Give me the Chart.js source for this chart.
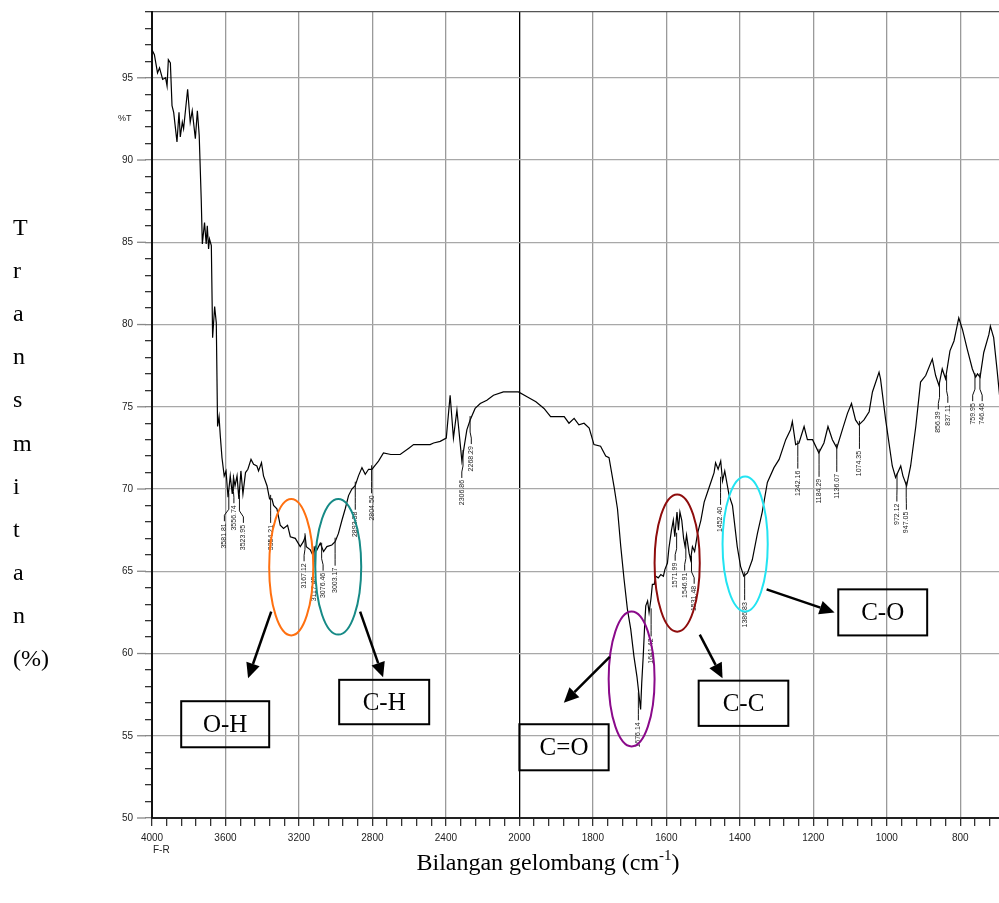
<!DOCTYPE html>
<html>
<head>
<meta charset="utf-8">
<script src="https://cdn.jsdelivr.net/npm/chart.js@4.4.1/dist/chart.umd.min.js"></script>
<style>
  html, body { margin: 0; padding: 0; background: #fff; }
</style>
</head>
<body>
<canvas id="spectrum" width="999" height="903"></canvas>
<script>
// IR spectrum: wavenumber (cm-1) and %T
const wavenumbers = [
  4000, 3987, 3970, 3959, 3942, 3926, 3918, 3911, 3900, 3891,
  3882, 3864, 3853, 3846, 3835, 3828, 3806, 3792, 3781, 3764,
  3753, 3743, 3732, 3726, 3714, 3705, 3699, 3692, 3687, 3677,
  3670, 3659, 3650, 3643, 3635, 3628, 3619, 3607, 3597, 3586,
  3574, 3563, 3556, 3548, 3537, 3527, 3516, 3505, 3491, 3478,
  3461, 3447, 3429, 3420, 3404, 3393, 3374, 3360, 3347, 3338,
  3320, 3302, 3284, 3262, 3247, 3220, 3193, 3176, 3166, 3160,
  3138, 3125, 3111, 3102, 3084, 3066, 3048, 3021, 3003, 2985,
  2966, 2948, 2930, 2912, 2894, 2876, 2857, 2839, 2821, 2803,
  2767, 2740, 2700, 2649, 2600, 2576, 2540, 2486, 2467, 2431,
  2398, 2377, 2359, 2340, 2313, 2286, 2268, 2241, 2213, 2177,
  2141, 2087, 2050, 2005, 1978, 1955, 1933, 1915, 1896, 1878,
  1865, 1851, 1838, 1824, 1810, 1797, 1779, 1765, 1756, 1742,
  1733, 1724, 1715, 1706, 1697, 1688, 1680, 1674, 1670, 1667,
  1663, 1659, 1656, 1651, 1647, 1642, 1638, 1633, 1629, 1622,
  1615, 1608, 1604, 1597, 1593, 1586, 1581, 1577, 1571, 1567,
  1563, 1558, 1553, 1549, 1545, 1538, 1534, 1529, 1523, 1515,
  1506, 1497, 1488, 1479, 1470, 1466, 1459, 1452, 1447, 1441,
  1429, 1420, 1407, 1398, 1389, 1379, 1366, 1352, 1339, 1325,
  1307, 1293, 1275, 1262, 1257, 1248, 1239, 1225, 1216, 1202,
  1185, 1171, 1160, 1148, 1136, 1121, 1107, 1096, 1085, 1076,
  1062, 1048, 1039, 1021, 1017, 1003, 985, 976, 962, 956,
  946, 935, 921, 908, 894, 876, 867, 858, 849, 840,
  828, 817, 804, 794, 781, 767, 758, 753, 746, 736,
  722, 718, 709, 700, 693
];
const transmittance = [
  96.7, 96.4, 95.3, 95.6, 94.9, 95.0, 94.5, 96.1, 95.9, 93.3,
  92.9, 91.1, 92.9, 91.4, 92.3, 91.9, 94.3, 92.3, 93.0, 91.3,
  93.0, 91.5, 87.6, 84.9, 86.2, 84.9, 86.0, 84.6, 85.2, 84.8,
  79.2, 81.1, 80.1, 73.8, 74.4, 73.2, 71.9, 70.8, 71.1, 69.5,
  70.8, 69.7, 70.7, 70.2, 70.8, 69.4, 71.1, 69.7, 71.0, 71.2,
  71.8, 71.5, 71.4, 71.1, 71.6, 70.8, 70.2, 69.4, 69.4, 69.0,
  68.8, 67.8, 67.6, 67.8, 67.1, 67.0, 66.5, 66.8, 67.1, 66.5,
  66.3, 66.0, 66.5, 66.3, 66.7, 66.2, 66.5, 66.6, 66.8, 67.3,
  68.1, 68.8, 69.6, 70.0, 70.2, 70.8, 71.3, 70.9, 71.2, 71.2,
  71.7, 72.2, 72.1, 72.1, 72.5, 72.7, 72.7, 72.7, 72.8, 72.9,
  73.1, 75.7, 73.1, 74.8, 71.7, 73.6, 74.2, 74.9, 75.2, 75.4,
  75.7, 75.9, 75.9, 75.9, 75.6, 75.3, 74.9, 74.4, 74.4, 74.4,
  74.0, 74.3, 73.9, 74.0, 73.7, 72.7, 72.6, 72.0, 71.9, 70.1,
  68.8, 66.5, 64.5, 62.7, 61.5, 59.8, 58.6, 57.4, 56.6, 58.2,
  59.8, 61.7, 62.9, 63.2, 62.5, 63.3, 64.2, 64.2, 64.7, 64.6,
  64.8, 64.7, 65.1, 65.5, 66.4, 67.5, 68.1, 67.1, 68.6, 67.5,
  68.6, 68.1, 67.0, 66.5, 67.2, 66.1, 65.7, 66.5, 66.2, 67.3,
  68.1, 69.2, 69.8, 70.4, 71.0, 71.6, 71.2, 71.7, 70.5, 71.1,
  69.6, 69.0, 66.5, 65.3, 64.7, 64.9, 65.7, 67.3, 68.6, 70.4,
  71.3, 71.8, 73.0, 73.6, 74.1, 72.7, 72.8, 73.8, 73.0, 73.0,
  72.2, 72.8, 73.8, 73.0, 72.5, 73.6, 74.6, 75.2, 74.2, 73.9,
  74.2, 74.7, 75.9, 77.1, 76.7, 74.2, 71.4, 70.7, 71.4, 70.8,
  70.2, 71.4, 73.8, 76.5, 76.9, 77.9, 76.9, 76.3, 77.3, 76.7,
  78.4, 79.0, 80.4, 79.7, 78.5, 77.3, 76.8, 77.0, 76.8, 78.3,
  79.4, 79.9, 79.2, 77.3, 75.7
];
const xTickValues = [4000, 3600, 3200, 2800, 2400, 2000, 1800, 1600, 1400, 1200, 1000, 800];
const yTickValues = [50, 55, 60, 65, 70, 75, 80, 85, 90, 95];
const peakLabels = [
  "3581.81", "3556.74", "3523.95", "3354.21", "3167.12", "3117.45", "3076.46", "3003.17",
  "2893.38", "2804.50", "2306.86", "2268.29", "1676.14", "1641.42", "1571.99", "1546.91",
  "1531.48", "1452.40", "1386.83", "1242.16", "1184.29", "1136.07", "1074.35", "972.12",
  "947.05", "856.39", "837.11", "759.95", "746.46"
];
const bandNames = ["O-H", "C-H", "C=O", "C-C", "C-O"];

// annotation layout, in wavenumber / %T units
const bandMarks = [
  {ring: [3362, 3122, 61.1, 69.4], color: "#ff7010", box: [3841, 3362, 54.3, 57.1], arrow: [3351, 62.55, 3477, 58.5]},
  {ring: [3111, 2861, 61.15, 69.4], color: "#168a86", box: [2981, 2491, 55.7, 58.4], arrow: [2867, 62.55, 2742, 58.55]},
  {ring: [1757, 1632, 54.35, 62.55], color: "#8a0a8a", box: [2000, 1757, 52.9, 55.7], arrow: [1754, 59.8, 1879, 57.0]},
  {ring: [1632, 1509, 61.33, 69.67], color: "#8e0c0c", box: [1512, 1268, 55.6, 58.35], arrow: [1509, 61.15, 1447, 58.5]},
  {ring: [1447, 1324, 62.55, 70.76], color: "#22e4f2", box: [1132, 890, 61.1, 63.9], arrow: [1327, 63.9, 1142, 62.5]}
];

// the instrument plots 4000-2000 at half the scale of 2000-400
function toAxis(w) { return w >= 2000 ? 4000 - w : 2000 + 2 * (2000 - w); }
function fromAxis(p) { return p <= 2000 ? 4000 - p : 2000 - (p - 2000) / 2; }

function curveMin(w) {
  let best = Infinity;
  for (let i = 0; i < wavenumbers.length; i++) {
    if (Math.abs(wavenumbers[i] - w) <= 6) best = Math.min(best, transmittance[i]);
  }
  for (let i = 0; i < wavenumbers.length - 1; i++) {
    const a = wavenumbers[i], b = wavenumbers[i + 1];
    if (w <= a && w >= b) {
      best = Math.min(best, transmittance[i] + (transmittance[i + 1] - transmittance[i]) * (a - w) / (a - b));
    }
  }
  return best;
}

function arrow(ctx, x1, y1, x2, y2) {
  const ang = Math.atan2(y2 - y1, x2 - x1);
  const len = 15, half = 7;
  const bx = x2 - len * Math.cos(ang), by = y2 - len * Math.sin(ang);
  ctx.beginPath();
  ctx.moveTo(x1, y1);
  ctx.lineTo(bx, by);
  ctx.stroke();
  ctx.beginPath();
  ctx.moveTo(x2, y2);
  ctx.lineTo(bx + half * Math.sin(ang), by - half * Math.cos(ang));
  ctx.lineTo(bx - half * Math.sin(ang), by + half * Math.cos(ang));
  ctx.closePath();
  ctx.fill();
}

const annotations = {
  id: "irAnnotations",
  afterDatasetsDraw(chart) {
    const {ctx, scales: {x, y}} = chart;
    const px = w => x.getPixelForValue(toAxis(w));
    const py = t => y.getPixelForValue(t);

    // peak labels with leader lines
    const items = peakLabels.map(s => ({text: s, x: px(parseFloat(s)), cy: py(curveMin(parseFloat(s)))}));
    const lx = items.map(it => it.x);
    for (let k = 0; k < 200; k++) {
      for (let i = 1; i < lx.length; i++) {
        const d = lx[i] - lx[i - 1];
        if (d < 9.5) { lx[i - 1] -= (9.5 - d) / 2; lx[i] += (9.5 - d) / 2; }
      }
    }
    ctx.save();
    ctx.strokeStyle = "#111";
    ctx.lineWidth = 1;
    ctx.fillStyle = "#222";
    ctx.font = "7px 'Liberation Sans'";
    items.forEach((it, i) => {
      ctx.beginPath();
      ctx.moveTo(it.x, it.cy - 4);
      ctx.lineTo(it.x, it.cy + 12);
      ctx.lineTo(lx[i], it.cy + 18);
      ctx.lineTo(lx[i], it.cy + 24);
      ctx.stroke();
      ctx.save();
      ctx.translate(lx[i], it.cy + 26);
      ctx.rotate(-Math.PI / 2);
      ctx.textAlign = "right";
      ctx.textBaseline = "middle";
      ctx.fillText(it.text, 0, 0);
      ctx.restore();
    });
    ctx.restore();

    // rings, arrows and boxed band names
    ctx.save();
    bandMarks.forEach((m, i) => {
      const [w1, w2, t1, t2] = m.ring;
      ctx.strokeStyle = m.color;
      ctx.lineWidth = 2;
      ctx.beginPath();
      ctx.ellipse((px(w1) + px(w2)) / 2, (py(t1) + py(t2)) / 2, Math.abs(px(w2) - px(w1)) / 2, Math.abs(py(t1) - py(t2)) / 2, 0, 0, Math.PI * 2);
      ctx.stroke();

      ctx.strokeStyle = "#000";
      ctx.fillStyle = "#000";
      ctx.lineWidth = 2.5;
      const [aw1, at1, aw2, at2] = m.arrow;
      arrow(ctx, px(aw1), py(at1), px(aw2), py(at2));

      const [bw1, bw2, bt1, bt2] = m.box;
      ctx.lineWidth = 2;
      ctx.strokeRect(px(bw1), py(bt2), px(bw2) - px(bw1), py(bt1) - py(bt2));
      ctx.font = "25px 'Liberation Serif'";
      ctx.textAlign = "center";
      ctx.textBaseline = "middle";
      ctx.fillText(bandNames[i], (px(bw1) + px(bw2)) / 2, (py(bt1) + py(bt2)) / 2 + 1);
    });
    ctx.restore();
  },
  afterDraw(chart) {
    const {ctx, chartArea, scales: {y}} = chart;
    ctx.save();
    // longer ticks on the labelled %T values
    ctx.strokeStyle = "#888";
    ctx.lineWidth = 1.3;
    yTickValues.forEach(v => {
      const yy = y.getPixelForValue(v);
      ctx.beginPath();
      ctx.moveTo(chartArea.left - 15, yy);
      ctx.lineTo(chartArea.left - 6, yy);
      ctx.stroke();
    });

    ctx.fillStyle = "#222";
    ctx.font = "9px 'Liberation Sans'";
    ctx.textAlign = "left";
    ctx.textBaseline = "middle";
    ctx.fillText("%T", 118, y.getPixelForValue(92.5));
    ctx.font = "10px 'Liberation Sans'";
    ctx.fillText("F-R", 153, 850);

    // axis titles
    ctx.fillStyle = "#000";
    ctx.font = "24px 'Liberation Serif'";
    ctx.textBaseline = "alphabetic";
    const letters = ["T", "r", "a", "n", "s", "m", "i", "t", "a", "n", "(%)"];
    letters.forEach((c, i) => ctx.fillText(c, 13, 235 + i * 43.1));

    const main = "Bilangan gelombang (cm";
    const sup = "-1";
    ctx.font = "24px 'Liberation Serif'";
    const wMain = ctx.measureText(main).width;
    const wClose = ctx.measureText(")").width;
    ctx.font = "15px 'Liberation Serif'";
    const wSup = ctx.measureText(sup).width;
    const startX = 548 - (wMain + wSup + wClose) / 2;
    const base = 870;
    ctx.font = "24px 'Liberation Serif'";
    ctx.fillText(main, startX, base);
    ctx.fillText(")", startX + wMain + wSup, base);
    ctx.font = "15px 'Liberation Serif'";
    ctx.fillText(sup, startX + wMain, base - 10);
    ctx.restore();
  }
};

Chart.defaults.font.family = "'Liberation Sans', Arial, sans-serif";

new Chart(document.getElementById("spectrum").getContext("2d"), {
  type: "line",
  data: {
    datasets: [{
      data: wavenumbers.map((w, i) => ({x: toAxis(w), y: transmittance[i]})),
      borderColor: "#000",
      borderWidth: 1.2,
      pointRadius: 0,
      tension: 0,
      fill: false
    }]
  },
  options: {
    responsive: false,
    devicePixelRatio: 1,
    animation: false,
    layout: {padding: {top: 12, right: 0, bottom: 0, left: 0}},
    plugins: {legend: {display: false}, tooltip: {enabled: false}},
    scales: {
      x: {
        type: "linear",
        min: 0,
        max: 4611,
        afterBuildTicks: s => {
          s.ticks = [];
          for (let p = 0; p <= 4611; p += 80) s.ticks.push({value: p});
        },
        afterFit: s => { s.height = 85; s.paddingLeft = 0; s.paddingRight = 0; },
        ticks: {
          autoSkip: false,
          maxRotation: 0,
          minRotation: 0,
          padding: 6,
          color: "#222",
          font: {size: 10},
          callback: p => {
            const w = fromAxis(p);
            return xTickValues.includes(w) ? String(w) : "";
          }
        },
        grid: {
          color: c => {
            const w = fromAxis(c.tick.value);
            if (w === 2000) return "#000";
            return xTickValues.includes(w) && w !== 4000 ? "#9a9a9a" : "rgba(0,0,0,0)";
          },
          lineWidth: 1.3,
          tickLength: 8,
          tickColor: "#333"
        },
        border: {color: "#222", width: 2}
      },
      y: {
        type: "linear",
        min: 50,
        max: 99,
        afterBuildTicks: s => {
          s.ticks = [];
          for (let v = 50; v <= 99; v++) s.ticks.push({value: v});
        },
        afterFit: s => { s.width = 152; s.paddingTop = 0; s.paddingBottom = 0; },
        ticks: {
          autoSkip: false,
          padding: 12,
          color: "#222",
          font: {size: 10},
          callback: v => yTickValues.includes(v) ? String(v) : ""
        },
        grid: {
          color: c => {
            const v = c.tick.value;
            if (v === 99) return "#555";
            return v % 5 === 0 && v > 50 ? "#a8a8a8" : "rgba(0,0,0,0)";
          },
          lineWidth: 1.3,
          tickLength: 7,
          tickColor: c => c.tick.value % 5 === 0 ? "#888" : "#333"
        },
        border: {color: "#111", width: 2}
      }
    }
  },
  plugins: [annotations]
});
</script>
</body>
</html>
